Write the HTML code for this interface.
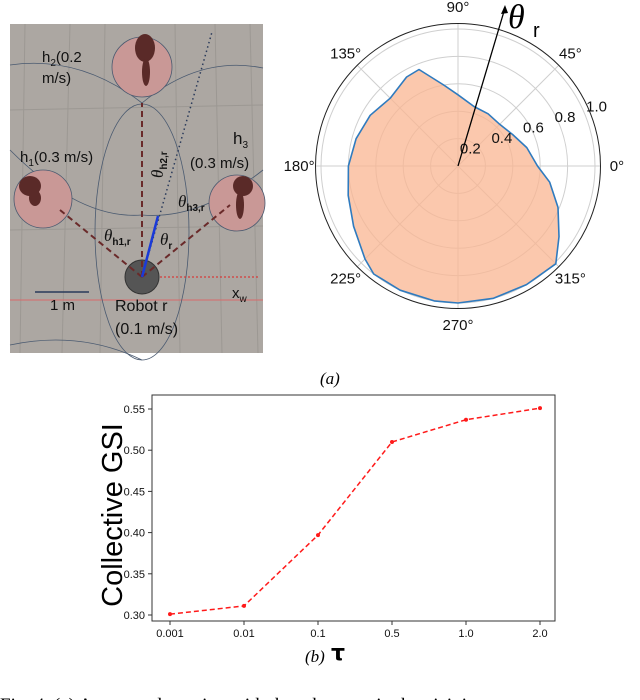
<!DOCTYPE html>
<html><head><meta charset="utf-8"><style>
body{margin:0;background:#fff;width:640px;height:700px;overflow:hidden;font-family:"Liberation Sans",sans-serif}
svg{position:absolute;left:0;top:0}
</style></head><body>
<svg width="640" height="700" viewBox="0 0 640 700">
<g>
<rect x="10" y="24" width="253" height="329" fill="#aca7a2"/>
<g stroke="#9c9893" stroke-width="1" fill="none">
<line x1="25" y1="24" x2="20" y2="353"/><line x1="70" y1="24" x2="62" y2="353"/><line x1="105" y1="24" x2="100" y2="353"/>
<line x1="175" y1="24" x2="180" y2="353"/><line x1="215" y1="24" x2="222" y2="353"/><line x1="250" y1="24" x2="258" y2="353"/>
<line x1="10" y1="110" x2="263" y2="105"/><line x1="10" y1="230" x2="263" y2="226"/>
</g>
<line x1="10" y1="300" x2="263" y2="300" stroke="#d96a6a" stroke-width="1"/>
<g stroke="#4a5a70" stroke-width="0.8" fill="none">
<ellipse cx="142" cy="232" rx="47" ry="128"/>
<path d="M10 65 Q80 55 142 103 Q200 55 263 68"/>
<path d="M10 150 Q80 220 142 215 Q200 220 263 170"/>
<path d="M10 345 Q80 330 142 360"/>
</g>
<circle cx="142" cy="67" r="30" fill="#c99896" stroke="#4a5a70" stroke-width="0.8"/>
<circle cx="43" cy="199" r="29" fill="#c99896" stroke="#4a5a70" stroke-width="0.8"/>
<circle cx="237" cy="203" r="28" fill="#c99896" stroke="#4a5a70" stroke-width="0.8"/>
<g fill="#5a2a28">
<ellipse cx="145" cy="48" rx="10" ry="14"/><ellipse cx="146" cy="72" rx="4" ry="14"/>
<ellipse cx="30" cy="186" rx="11" ry="10"/><ellipse cx="35" cy="198" rx="6" ry="8"/>
<ellipse cx="243" cy="186" rx="10" ry="10"/><ellipse cx="240" cy="205" rx="4" ry="14"/>
</g>
<circle cx="142" cy="277" r="17" fill="#555" stroke="#333"/>
<g stroke="#6a2a2a" stroke-width="2" stroke-dasharray="6,4" fill="none">
<line x1="142" y1="277" x2="142" y2="103"/><line x1="142" y1="277" x2="60" y2="210"/><line x1="142" y1="277" x2="230" y2="205"/>
</g>
<line x1="142" y1="277" x2="212" y2="32" stroke="#2a3a5a" stroke-width="1.5" stroke-dasharray="1.5,3"/>
<line x1="142" y1="277" x2="158" y2="216" stroke="#1a3ad8" stroke-width="2.5"/>
<line x1="160" y1="277" x2="258" y2="277" stroke="#e02020" stroke-width="1" stroke-dasharray="2,2"/>
<line x1="35" y1="292" x2="89" y2="292" stroke="#2a3a5a" stroke-width="1.5"/>
<g font-size="15" fill="#111">
<text x="42" y="62">h<tspan font-size="10" dy="4">2</tspan><tspan dy="-4">(0.2</tspan></text>
<text x="42" y="83">m/s)</text>
<text x="20" y="162">h<tspan font-size="10" dy="4">1</tspan><tspan dy="-4">(0.3 m/s)</tspan></text>
<text x="233" y="144" font-size="17">h<tspan font-size="10" dy="4">3</tspan></text>
<text x="190" y="168">(0.3 m/s)</text>
<text x="50" y="310">1 m</text>
<text x="115" y="311" font-size="16">Robot r</text>
<text x="115" y="334" font-size="16">(0.1 m/s)</text>
<text x="232" y="298">x<tspan font-size="10" dy="4">w</tspan></text>
<text x="104" y="241" font-family="Liberation Serif" font-style="italic" font-size="17">θ<tspan font-size="10" font-weight="bold" font-family="Liberation Sans" font-style="normal" dy="4">h1,r</tspan></text>
<text x="160" y="245" font-family="Liberation Serif" font-style="italic" font-size="17">θ<tspan font-size="10" font-weight="bold" font-family="Liberation Sans" font-style="normal" dy="4">r</tspan></text>
<text x="178" y="207" font-family="Liberation Serif" font-style="italic" font-size="17">θ<tspan font-size="10" font-weight="bold" font-family="Liberation Sans" font-style="normal" dy="4">h3,r</tspan></text>
<text x="0" y="0" transform="translate(163,178) rotate(-90)" font-family="Liberation Serif" font-style="italic" font-size="17">θ<tspan font-size="10" font-weight="bold" font-family="Liberation Sans" font-style="normal" dy="4">h2,r</tspan></text>
</g>
</g>
<text x="320" y="384" font-family="Liberation Serif" font-style="italic" font-size="17">(a)</text>
<g id="polar"></g>
<g id="line"></g>
<text x="305" y="662" font-family="Liberation Serif" font-style="italic" font-size="17">(b)</text>
<text x="331" y="660" font-family="DejaVu Sans" font-weight="bold" font-size="22">τ</text>
<text x="0" y="711" font-family="Liberation Serif" font-size="19">Fig. 4. (a) An example setting with three humans in the vicinity</text>
</svg>
<script>
const NS="http://www.w3.org/2000/svg";
function mk(p,t,a){const e=document.createElementNS(NS,t);for(const k in a)e.setAttribute(k,a[k]);p.appendChild(e);return e;}
const polarAngles=[0,15,30,45,60,75,90,100,112,120,135,150,165,180,195,210,225,232,245,260,270,285,300,315,325,337.5,350];
const polarRadii=[0.58,0.52,0.46,0.43,0.44,0.45,0.52,0.60,0.76,0.75,0.70,0.74,0.77,0.80,0.83,0.88,0.96,1.0,1.0,1.0,1.0,1.0,1.0,1.01,0.90,0.79,0.68];
const ringLabels=["0.2","0.4","0.6","0.8","1.0"];
const ringValues=[0.2,0.4,0.6,0.8,1.0];
const spokeAngles=[0,45,90,135,180,225,270,315];
const PCX=458,PCY=166,PSCALE=137,PRMAX=1.04;
function px(a,r){const t=a*Math.PI/180;return [PCX+r*PSCALE*Math.cos(t),PCY-r*PSCALE*Math.sin(t)];}
const pg=document.getElementById('polar');
ringValues.forEach(v=>{const c=mk(pg,'circle',{cx:PCX,cy:PCY,r:v*PSCALE,fill:'none',stroke:'#cfcfcf','stroke-width':1});

});
spokeAngles.forEach(a=>{const [x,y]=px(a,PRMAX);const l=mk(pg,'line',{x1:PCX,y1:PCY,x2:x,y2:y,stroke:'#cfcfcf','stroke-width':1});

});
let d=polarAngles.map((a,i)=>{const [x,y]=px(a,polarRadii[i]);return (i?'L':'M')+x.toFixed(1)+' '+y.toFixed(1);}).join(' ')+' Z';
const area=mk(pg,'path',{d:d,fill:'#f9b592','fill-opacity':0.75,stroke:'#2f7bbf','stroke-width':1.6,'stroke-linejoin':'round'});


const outer=mk(pg,'circle',{cx:PCX,cy:PCY,r:PRMAX*PSCALE,fill:'none',stroke:'#222','stroke-width':1});


ringValues.forEach((v,i)=>{const [x,y]=px(22.5,v);const ox=-13+(v-0.2)/0.8*25;const t=mk(pg,'text',{x:x+ox,y:y-2,'font-size':15,'text-anchor':'middle',fill:'#111'});t.textContent=ringLabels[i];

});
spokeAngles.forEach(a=>{const [x,y]=px(a,1.16);const t=mk(pg,'text',{x:x,y:y+5,'font-size':15,'text-anchor':'middle',fill:'#111'});t.textContent=a+'°';

});
const arr=mk(pg,'line',{x1:PCX,y1:PCY,x2:505,y2:8,stroke:'#000','stroke-width':1.3});


const ah=mk(pg,'path',{d:'M505 5 L501 14 L508 13 Z',fill:'#000'});


const tl=mk(pg,'text',{x:508,y:28,'font-size':34,'font-family':'Liberation Serif','font-style':'italic',fill:'#000'});tl.textContent='θ';


const tl2=mk(pg,'text',{x:533,y:37,'font-size':20,fill:'#000'});tl2.textContent='r';



const tauCategories=["0.001","0.01","0.1","0.5","1.0","2.0"];
const gsiValues=[0.301,0.311,0.397,0.510,0.537,0.551];
const yTicks=[0.30,0.35,0.40,0.45,0.50,0.55];
const yTickLabels=["0.30","0.35","0.40","0.45","0.50","0.55"];
const L=152,R=555,T=395,B=621;
const xs=i=>170+i*(540-170)/(tauCategories.length-1);
const ys=v=>615-(v-0.30)*(615-409)/0.25;
const lg=document.getElementById('line');
const fr=mk(lg,'rect',{x:L,y:T,width:R-L,height:B-T,fill:'none',stroke:'#333','stroke-width':1});


yTicks.forEach((v,i)=>{const y=ys(v);mk(lg,'line',{x1:L-4,y1:y,x2:L,y2:y,stroke:'#333'});
const t=mk(lg,'text',{x:L-7,y:y+4,'font-size':11,'text-anchor':'end',fill:'#111'});t.textContent=yTickLabels[i];

});
tauCategories.forEach((c,i)=>{const x=xs(i);mk(lg,'line',{x1:x,y1:B,x2:x,y2:B+4,stroke:'#333'});
const t=mk(lg,'text',{x:x,y:B+16,'font-size':11,'text-anchor':'middle',fill:'#111'});t.textContent=c;

});
const ln=mk(lg,'polyline',{points:gsiValues.map((v,i)=>xs(i)+','+ys(v)).join(' '),fill:'none',stroke:'#ff1a1a','stroke-width':1.5,'stroke-dasharray':'5,3'});


gsiValues.forEach((v,i)=>{const c=mk(lg,'circle',{cx:xs(i),cy:ys(v),r:2,fill:'#ff1a1a'});

});
const yt=mk(lg,'text',{x:0,y:0,transform:'translate(122,515) rotate(-90)','font-size':29,'text-anchor':'middle',fill:'#000'});yt.textContent='Collective GSI';


</script>
</body></html>
